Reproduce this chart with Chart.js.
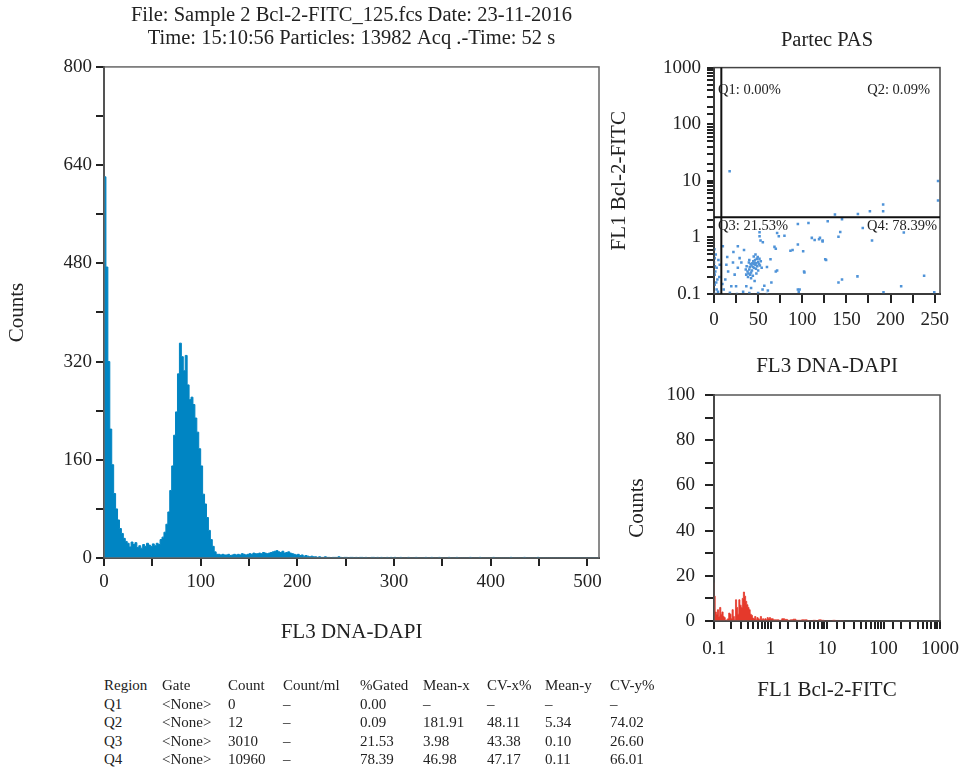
<!DOCTYPE html>
<html>
<head>
<meta charset="utf-8">
<script src="https://cdn.jsdelivr.net/npm/chart.js@4"></script>
<style>
body{margin:0;background:#fff;width:964px;height:776px;position:relative;overflow:hidden;font-family:"Liberation Serif","Times New Roman",serif;color:#222}
canvas{position:absolute}
.cell{position:absolute;font-size:15px;line-height:18px;white-space:pre}
</style>
</head>
<body>
<canvas id="mainChart" width="620" height="660" style="left:0;top:0"></canvas>
<canvas id="dotChart" width="364" height="360" style="left:600px;top:20px"></canvas>
<canvas id="fitcChart" width="364" height="330" style="left:600px;top:380px"></canvas>
<div id="statTable"></div>
<script>
/* titles */
const mainTitle = ["File: Sample 2 Bcl-2-FITC_125.fcs Date: 23-11-2016","Time: 15:10:56 Particles: 13982 Acq .-Time: 52 s"];
const quadLabels = ["Q1: 0.00%","Q2: 0.09%","Q3: 21.53%","Q4: 78.39%"];

/* FL3 DNA-DAPI histogram, 2 channel bins starting at 0 */
const dapiBinWidth = 2;
const dapiCounts = [
60,621,474,320,210,152,105,80,62,48,
40,32,27,24,18,26,22,25,17,20,
16,22,19,24,21,19,23,20,24,22,
30,34,42,55,75,110,150,200,238,300,
350,328,305,330,282,258,262,250,228,205,
178,150,104,88,66,45,30,19,10,6,
6,5,6,5,5,6,4,5,6,5,6,5,7,6,5,6,7,6,8,7,
7,8,7,9,8,7,8,9,10,11,12,10,9,11,8,9,10,8,7,6,
5,6,4,5,3,4,3,2,3,2,
2,1,2,1,1,2,1,1,0,1,1,1,2,1,0,1,1,0,1,1,
0,1,0,1,1,0,1,0,0,1,1,0,1,0,1,0,0,1,0,1,
0,1,0,0,1,0,0,0,1,0,0,0,1,0,0,0,0,1,0,0,
1,0,0,0,1,0,0,0,0,1,0,0,0,1,0,0,0,0,0,0,
1,0,0,0,0,1,0,0,0,0,0,0,1,0,0,0,0,0,0,0,
0,1,0,0,0,0,0,0,1,0,0,0,0,0,0,1,0,0,0,0,
0,0,0,0,0,0,0,0,0,0,0,0,0,0,0,0,0,0,0,0,
0,0,0,0,0,0
];

/* dot plot FL3 vs FL1 */
const gateX = 8.3, gateY = 2.27;
const dotX = [
17.7,137,163,176.6,191.6,191.6,253.8,253.8,
145,128.8,107,95,168.5,143,141,215,119,123,127,179,
71.5,73.4,79.8,51.6,51.6,55.3,110.8,114,120,123,
68.5,70,86.6,89,95,64,71.5,102.4,126,145,141,162.5,238,212,95,96,192,249.5,60,101,27,10,52.7,
0.8,0,3,0.8,3.8,0.8,3,0,2,1.5,5,6,2.5,4.5,1,6.5,0.5,
14,16,12.8,11,19.6,25,23.4,27,31,29,21.5,9.5,18,33,26,15,22,34,
38,39,40,41,42,43,40.5,42.5,44,45,46,47,48,49,50,51,52,46.5,48.5,47.5,
45.5,44.5,43.5,41.5,39.5,37,36,38.5,44,50,53,49.5,45,47,54,36.5,42,48,51.5,40,
36.6,42,50,61,40,57,46,55,65,70,60,97,102
];
const dotY = [
14.8,2.54,2.6,2.9,3.8,2.9,9.9,4.5,
2.1,1.93,1.8,1.72,1.47,1.25,1.03,1.22,0.93,0.85,0.4,0.88,
1.2,1.05,1.07,1.23,1.05,0.82,0.98,0.9,0.98,0.88,
0.68,0.63,0.58,0.6,0.75,0.41,0.26,0.24,0.41,0.18,0.16,0.205,0.21,0.137,0.12,0.11,0.107,0.107,0.1,0.57,0.7,0.7,0.88,
0.43,0.36,0.29,0.22,0.18,0.146,0.12,0.104,0.5,0.25,0.4,0.2,0.16,0.11,0.31,0.33,0.62,
0.33,0.25,0.18,0.12,0.137,0.137,0.22,0.29,0.36,0.43,0.36,0.15,0.105,0.11,0.1,0.45,0.55,0.6,
0.25,0.23,0.27,0.22,0.24,0.26,0.3,0.32,0.3,0.34,0.36,0.33,0.35,0.31,0.37,0.34,0.32,0.4,0.42,0.28,
0.29,0.38,0.35,0.34,0.36,0.31,0.27,0.2,0.21,0.26,0.38,0.45,0.46,0.5,0.29,0.22,0.19,0.23,0.42,0.4,
0.137,0.128,0.104,0.115,0.104,0.14,0.17,0.12,0.16,0.25,0.3,0.12,0.25
];

/* FL1 Bcl-2-FITC histogram (bin start, count) */
const fitcBins = [
0.100,0.105,0.110,0.115,0.120,0.126,0.132,0.138,0.145,0.151,
0.158,0.166,0.174,0.182,0.191,0.200,0.209,0.219,0.229,0.240,
0.251,0.263,0.275,0.288,0.302,0.316,0.331,0.347,0.363,0.380,
0.398,0.417,0.437,0.457,0.479,0.501,0.525,0.550,0.575,0.603,
0.631,0.661,0.692,0.724,0.759,0.794,0.832,0.871,0.912,0.955,
1.00,1.12,1.26,1.41,1.58,1.78,2.00,2.24,2.51,2.82,
3.16,3.55,3.98,4.47,5.01,5.62,6.31,7.08,7.94,8.91,
10.0,11.2,12.6,14.1,15.8,17.8,20.0
];
const fitcCounts = [
17,11,4,3,5,2,6,3,4,2,
1.5,0,0.5,1,3.5,3,1,5,2,0.5,
9.4,6,3,9.4,7,6,10,12.8,11,8.7,
7.2,6,5,3,2.5,1.3,1,2,0.5,1.5,
1,0.5,2,0.5,1,0.5,1,0.5,1.5,1,
1.5,1,0.5,0.5,0.3,1,0.7,0.3,0.5,0.8,
0.3,0.3,0.5,0.5,0.2,0,0.3,0,0.5,0.3,
0,0,0,0.3,0,0,0
];

/* table */
const tableHead = ["Region","Gate","Count","Count/ml","%Gated","Mean-x","CV-x%","Mean-y","CV-y%"];
const tableRows = [
["Q1","<None>","0","–","0.00","–","–","–","–"],
["Q2","<None>","12","–","0.09","181.91","48.11","5.34","74.02"],
["Q3","<None>","3010","–","21.53","3.98","43.38","0.10","26.60"],
["Q4","<None>","10960","–","78.39","46.98","47.17","0.11","66.01"]
];
const colX = [104,162,228,283,360,423,487,545,610];

const serif = '"Liberation Serif","Times New Roman",serif';
Chart.defaults.font.family = serif;
Chart.defaults.color = '#222';

const ink = '#222';
const tickFont = {size:19};
const titleFont = {size:21,lineHeight:1.2};

const framePlugin = {
  id:'frame',
  afterDatasetsDraw(chart,args,opts){
    const {ctx, chartArea:a} = chart;
    ctx.save();
    ctx.strokeStyle = opts.color || '#555';
    ctx.lineWidth = opts.width || 1.5;
    ctx.strokeRect(a.left, a.top, a.right-a.left, a.bottom-a.top);
    ctx.restore();
  }
};

const quadPlugin = {
  id:'quad',
  afterDatasetsDraw(chart){
    const {ctx, chartArea:a, scales:{x,y}} = chart;
    const qx = x.getPixelForValue(gateX), qy = y.getPixelForValue(gateY);
    ctx.save();
    ctx.strokeStyle = '#111';
    ctx.lineWidth = 2;
    ctx.beginPath();
    ctx.moveTo(qx,a.top); ctx.lineTo(qx,a.bottom);
    ctx.moveTo(a.left,qy); ctx.lineTo(a.right,qy);
    ctx.stroke();
    ctx.font = '14.5px '+serif;
    ctx.fillStyle = ink;
    ctx.textBaseline = 'middle';
    ctx.textAlign = 'left';
    ctx.fillText(quadLabels[0], a.left+4, a.top+23);
    ctx.fillText(quadLabels[2], a.left+4, qy+9);
    ctx.textAlign = 'right';
    ctx.fillText(quadLabels[1], a.right-10, a.top+23);
    ctx.fillText(quadLabels[3], a.right-3, qy+9);
    ctx.restore();
  }
};

const decadeLabel = v => {
  const l = Math.log10(v);
  return Math.abs(l-Math.round(l)) < 1e-9 ? String(+v.toPrecision(3)) : '';
};

function axisLook(tickLen){
  return {
    border:{color:ink,width:2},
    grid:{drawOnChartArea:false,tickLength:tickLen,color:ink,lineWidth:2}
  };
}

/* main histogram */
const dapiPoints = dapiCounts.map((c,i)=>({x:i*dapiBinWidth,y:c}));
dapiPoints.push({x:dapiCounts.length*dapiBinWidth,y:0});

new Chart(document.getElementById('mainChart'),{
  type:'line',
  data:{datasets:[{data:dapiPoints,stepped:'after',fill:'origin',
    backgroundColor:'#0085c3',borderColor:'#0085c3',borderWidth:1,pointRadius:0}]},
  options:{
    responsive:false,animation:false,
    layout:{padding:{left:0,right:21,top:0,bottom:0}},
    plugins:{
      legend:{display:false},tooltip:{enabled:false},
      title:{display:true,text:mainTitle,fullSize:false,color:ink,
        font:{size:20.5,weight:'normal',lineHeight:1.12},padding:{top:4,bottom:17}},
      frame:{color:'#666',width:1.5}
    },
    scales:{
      x:{type:'linear',min:0,max:512,z:1,...axisLook(8),
        ticks:{stepSize:50,includeBounds:false,autoSkip:false,maxRotation:0,padding:5,
          font:tickFont,callback:v=>v%100===0?v:''},
        title:{display:true,text:'FL3 DNA-DAPI',font:titleFont,padding:{top:0,bottom:15}},
        afterFit:s=>{s.height=102;}},
      y:{min:0,max:800,...axisLook(8),
        ticks:{stepSize:80,autoSkip:false,padding:4,font:tickFont,callback:v=>v%160===0?v:''},
        title:{display:true,text:'Counts',font:titleFont,padding:{top:5,bottom:0}},
        afterFit:s=>{s.width=104;}}
    }
  },
  plugins:[framePlugin]
});

/* dot plot */
new Chart(document.getElementById('dotChart'),{
  type:'scatter',
  data:{datasets:[{data:dotX.map((x,i)=>({x:x,y:dotY[i]})),
    pointStyle:'rect',pointRadius:1.8,borderWidth:0,backgroundColor:'#4f93d8'}]},
  options:{
    responsive:false,animation:false,
    layout:{padding:{left:0,right:24,top:0,bottom:0}},
    plugins:{
      legend:{display:false},tooltip:{enabled:false},
      title:{display:true,text:'Partec PAS',fullSize:false,color:ink,
        font:{size:20.5,weight:'normal',lineHeight:1.2},padding:{top:8,bottom:15}},
      frame:{color:'#444',width:1.5}
    },
    scales:{
      x:{type:'linear',min:0,max:256,z:1,...axisLook(9),
        ticks:{stepSize:25,includeBounds:false,autoSkip:false,maxRotation:0,padding:6,
          font:tickFont,callback:v=>v%50===0?v:''},
        title:{display:true,text:'FL3 DNA-DAPI',font:titleFont,padding:{top:0,bottom:1}},
        afterFit:s=>{s.height=86;}},
      y:{type:'logarithmic',min:0.1,max:1000,...axisLook(7),
        ticks:{autoSkip:false,padding:6,font:tickFont,callback:decadeLabel},
        title:{display:true,text:'FL1 Bcl-2-FITC',font:titleFont,padding:{top:7,bottom:0}},
        afterFit:s=>{s.width=114;}}
    }
  },
  plugins:[framePlugin,quadPlugin]
});

/* FITC histogram */
const fitcPoints = fitcBins.map((b,i)=>({x:b,y:fitcCounts[i]}));

new Chart(document.getElementById('fitcChart'),{
  type:'line',
  data:{datasets:[{data:fitcPoints,stepped:'after',fill:'origin',
    backgroundColor:'#e5392b',borderColor:'#e5392b',borderWidth:0.8,pointRadius:0}]},
  options:{
    responsive:false,animation:false,
    layout:{padding:{left:0,right:24,top:15,bottom:0}},
    plugins:{
      legend:{display:false},tooltip:{enabled:false},
      frame:{color:'#555',width:1.5}
    },
    scales:{
      x:{type:'logarithmic',min:0.1,max:1000,z:1,...axisLook(8),
        ticks:{autoSkip:false,maxRotation:0,padding:9,font:tickFont,callback:decadeLabel},
        title:{display:true,text:'FL1 Bcl-2-FITC',font:titleFont,padding:{top:0,bottom:7}},
        afterFit:s=>{s.height=89;s.paddingLeft=0;s.paddingRight=0;}},
      y:{min:0,max:100,...axisLook(9),
        ticks:{stepSize:10,autoSkip:false,padding:10,font:tickFont,callback:v=>v%20===0?v:''},
        title:{display:true,text:'Counts',font:titleFont,padding:{top:25,bottom:0}},
        afterFit:s=>{s.width=114;s.paddingTop=0;s.paddingBottom=0;}}
    }
  },
  plugins:[framePlugin]
});

/* stats table */
const tbl = document.getElementById('statTable');
[tableHead].concat(tableRows).forEach((row,r)=>{
  row.forEach((txt,c)=>{
    const d = document.createElement('div');
    d.className = 'cell';
    d.style.left = colX[c]+'px';
    d.style.top = (676+r*18.6)+'px';
    d.textContent = txt;
    tbl.appendChild(d);
  });
});
</script>
</body>
</html>
